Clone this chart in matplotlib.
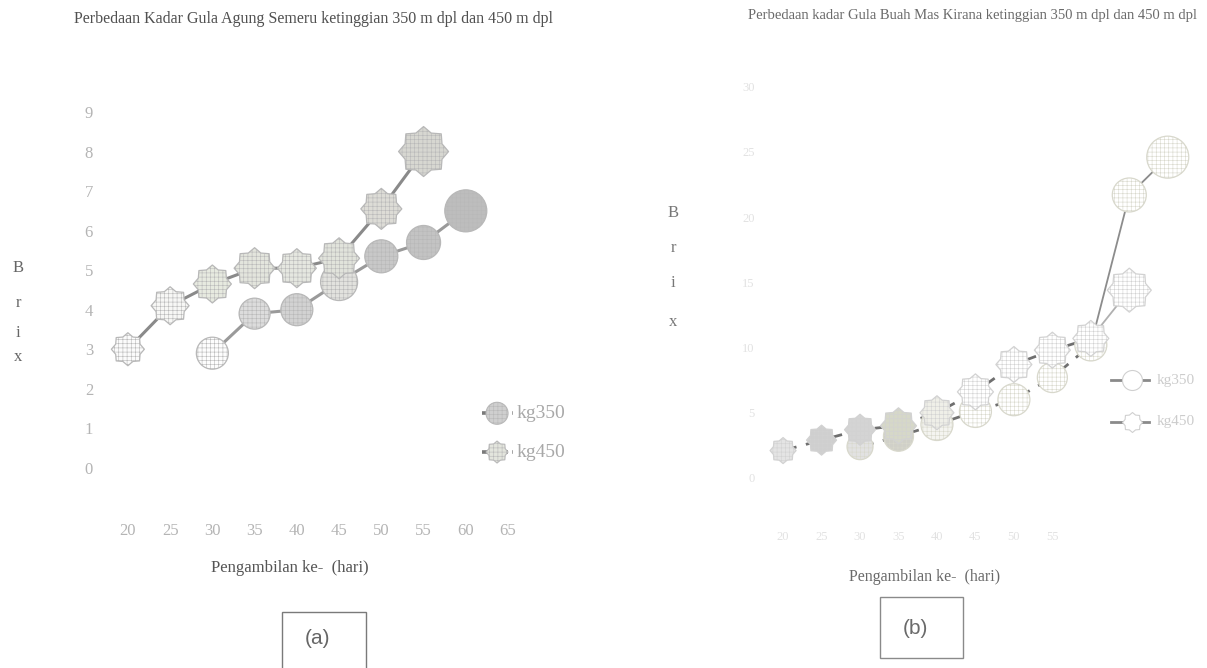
import numpy as np
import matplotlib
matplotlib.use("Agg")
import matplotlib.pyplot as plt
from matplotlib.path import Path
from matplotlib.patches import Rectangle

# ---- data: chart (a) Gula Agung Semeru ----
days_a_350 = [30, 35, 40, 45, 50, 55, 60]
brix_a_350 = [2.9, 3.9, 4.0, 4.7, 5.35, 5.7, 6.5]
days_a_450 = [20, 25, 30, 35, 40, 45, 50, 55]
brix_a_450 = [3.0, 4.1, 4.65, 5.05, 5.05, 5.3, 6.55, 8.0]
xticks_a = [20, 25, 30, 35, 40, 45, 50, 55, 60, 65]
yticks_a = [0, 1, 2, 3, 4, 5, 6, 7, 8, 9]

# ---- data: chart (b) Gula Buah Mas Kirana ----
days_b_350 = [30, 35, 40, 45, 50, 55, 60, 65, 70]
brix_b_350 = [2.4, 3.2, 4.1, 5.1, 6.0, 7.7, 10.2, 21.7, 24.6]
days_b_450 = [20, 25, 30, 35, 40, 45, 50, 55, 60, 65]
brix_b_450 = [2.1, 2.9, 3.7, 4.0, 5.0, 6.6, 8.7, 9.8, 10.7, 14.4]
xticks_b = [20, 25, 30, 35, 40, 45, 50, 55]
yticks_b = [0, 5, 10, 15, 20, 25, 30]

labels = ["kg350", "kg450"]
title_a = "Perbedaan Kadar Gula Agung Semeru ketinggian 350 m dpl dan 450 m dpl"
title_b = "Perbedaan kadar Gula Buah Mas Kirana ketinggian 350 m dpl dan 450 m dpl"
xlabel = "Pengambilan ke-  (hari)"
ylabel_letters = ["B", "r", "i", "x"]

W, H = 1207, 668
SERIF = ["Liberation Serif", "DejaVu Serif"]


def badge_path(n=8, inner=0.8):
    """Eight-pointed seal shape used for the 450 m series."""
    ang = np.linspace(0, 2 * np.pi, 2 * n, endpoint=False) + np.pi / 2
    r = np.where(np.arange(2 * n) % 2 == 0, 1.0, inner)
    verts = np.column_stack([r * np.cos(ang), r * np.sin(ang)])
    verts = np.vstack([verts, verts[0]])
    codes = [Path.MOVETO] + [Path.LINETO] * (2 * n - 1) + [Path.CLOSEPOLY]
    return Path(verts, codes)


STAR = badge_path()
px = 0.72  # points per pixel at 100 dpi

plt.rcParams["hatch.linewidth"] = 0.4

fig = plt.figure(figsize=(W / 100, H / 100), dpi=100)
fig.patch.set_facecolor("white")


def axes_px(x0, x1, y_top, y_bot):
    return fig.add_axes([x0 / W, (H - y_bot) / H, (x1 - x0) / W, (y_bot - y_top) / H])


def draw_points(ax, xs, ys, marker, sizes, faces, edge, hatch=None, z=3):
    for x, y, s, fc in zip(xs, ys, sizes, faces):
        ax.scatter([x], [y], marker=marker, s=(s * px) ** 2, facecolor=fc,
                   edgecolor=edge, linewidth=0.9, hatch=hatch, zorder=z)


def style_ticks(axis_obj):
    for t in axis_obj.get_xticklabels() + axis_obj.get_yticklabels():
        t.set_family(SERIF)


# ================= chart (a) =================
ax = axes_px(100, 530, 95, 490)
ax.set_xlim(16.7, 67.6)
ax.set_ylim(-0.56, 9.43)
for s in ax.spines.values():
    s.set_visible(False)
ax.set_xticks(xticks_a)
ax.set_yticks(yticks_a)
ax.tick_params(length=0, colors="#b4b4b4", labelsize=12)
ax.tick_params(axis="x", pad=24)
ax.tick_params(axis="y", pad=5)
style_ticks(ax)

ax.plot(days_a_450, brix_a_450, color="#8a8a8a", lw=2.2, zorder=2)
ax.plot(days_a_350, brix_a_350, color="#9a9a9a", lw=2.2, zorder=2)

draw_points(ax, days_a_350, brix_a_350, "o",
            [32, 31, 32, 37, 33, 34, 42],
            ["#fdfdfd", "#dcdcdc", "#d2d2d2", "#e2e2de", "#c8c8c8", "#c3c3c3", "#bdbdbd"],
            "#b8b8b8", hatch="++++", z=3)
draw_points(ax, days_a_450, brix_a_450, STAR,
            [33, 38, 38, 41, 39, 41, 41, 50],
            ["#fbfbfb", "#f7f7f5", "#e7eae0", "#e3e5dd", "#e5e7e0", "#e1e3db", "#dddcd6", "#d7d7d1"],
            "#b8b8b8", hatch="++++", z=4)

# legend of chart (a)
for yv, mk, fc, lab in [(1.38, "o", "#cfcfcf", labels[0]),
                        (0.4, STAR, "#e3e5dd", labels[1])]:
    ax.plot([61.9, 65.6], [yv, yv], color="#7a7a7a", lw=2.6, zorder=2,
            clip_on=False, dashes=(1.6, 1.2))
    ax.scatter([63.7], [yv], marker=mk, s=(22 * px) ** 2, facecolor=fc,
               edgecolor="#b8b8b8", linewidth=0.8, hatch="++++", zorder=3, clip_on=False)
    ax.text(66.0, yv, lab, va="center", ha="left", fontsize=14, color="#a8a8a8",
            family=SERIF, clip_on=False)

# ================= chart (b) =================
bx = axes_px(760, 1207, 75, 500)
bx.set_xlim(17.0, 75.1)
bx.set_ylim(-1.69, 30.9)
for s in bx.spines.values():
    s.set_visible(False)
bx.set_xticks(xticks_b)
bx.set_yticks(yticks_b)
bx.tick_params(length=0, colors="#e2e2e2", labelsize=9)
bx.tick_params(axis="x", pad=22)
bx.tick_params(axis="y", pad=4)
style_ticks(bx)

# early part dashed, late part thin solid
cut_450, cut_350 = 8, 6
bx.plot(days_b_450[:cut_450 + 1], brix_b_450[:cut_450 + 1], color="#6f6f6f",
        lw=2.0, dashes=(5, 3.5), zorder=2)
bx.plot(days_b_450[cut_450:], brix_b_450[cut_450:], color="#b0b0b0", lw=1.3, zorder=2)
bx.plot(days_b_350[:cut_350 + 1], brix_b_350[:cut_350 + 1], color="#707070",
        lw=2.0, dashes=(5, 3.5), zorder=2)
bx.plot(days_b_350[cut_350:], brix_b_350[cut_350:], color="#8c8c8c", lw=1.3, zorder=2)

draw_points(bx, days_b_450, brix_b_450, STAR,
            [26, 30, 31, 36, 34, 36, 36, 36, 36, 44],
            ["#e4e4e4", "#cfcfcf", "#d4d4d4", "#d6d8c8", "#efefe8", "#ffffff",
             "#ffffff", "#ffffff", "#ffffff", "#ffffff"],
            "#d2d2d2", hatch="++++", z=4)
draw_points(bx, days_b_350, brix_b_350, "o",
            [26, 30, 32, 32, 32, 30, 32, 34, 42],
            ["#e2e2e2", "#d0d0c8", "#f4f4f0", "#ffffff", "#ffffff", "#ffffff",
             "#ffffff", "#ffffff", "#ffffff"],
            "#d8d8cc", hatch="++++", z=3)

for yv, mk, lab in [(7.5, "o", labels[0]), (4.3, STAR, labels[1])]:
    bx.plot([62.6, 64.3], [yv, yv], color="#8a8a8a", lw=2.0, clip_on=False, zorder=2)
    bx.plot([66.2, 67.5], [yv, yv], color="#8a8a8a", lw=2.0, clip_on=False, zorder=2)
    bx.scatter([65.3], [yv], marker=mk, s=(20 * px) ** 2, facecolor="white",
               edgecolor="#d0d0d0", linewidth=0.8, zorder=3, clip_on=False)
    bx.text(68.6, yv, lab, va="center", ha="left", fontsize=11, color="#cccccc",
            family=SERIF, clip_on=False)

# ================= shared text =================
fig.text(313 / W, 1 - 19 / H, title_a, ha="center", va="center", fontsize=11.5,
         color="#505050", family=SERIF)
fig.text(972 / W, 1 - 16 / H, title_b, ha="center", va="center", fontsize=10.5,
         color="#6a6a6a", family=SERIF)
fig.text(290 / W, 1 - 568 / H, xlabel, ha="center", va="center", fontsize=12,
         color="#555555", family=SERIF)
fig.text(925 / W, 1 - 577 / H, xlabel, ha="center", va="center", fontsize=11.5,
         color="#6a6a6a", family=SERIF)

for ch, yy in zip(ylabel_letters, [268, 303, 333, 357]):
    fig.text(18 / W, 1 - yy / H, ch, ha="center", va="center", fontsize=12,
             color="#666666", family=SERIF)
for ch, yy in zip(ylabel_letters, [213, 248, 283, 322]):
    fig.text(673 / W, 1 - yy / H, ch, ha="center", va="center", fontsize=12,
             color="#777777", family=SERIF)

# panel tags
fig.patches.append(Rectangle((282 / W, -0.02), 84 / W, (668 - 612) / H + 0.02,
                             transform=fig.transFigure, fill=False,
                             edgecolor="#7a7a7a", lw=1.0))
fig.text(318 / W, 1 - 638 / H, "(a)", ha="center", va="center", fontsize=15,
         color="#666666", family=["Liberation Sans"])
fig.patches.append(Rectangle((880 / W, (668 - 658) / H), 83 / W, 61 / H,
                             transform=fig.transFigure, fill=False,
                             edgecolor="#8a8a8a", lw=1.0))
fig.text(915 / W, 1 - 628 / H, "(b)", ha="center", va="center", fontsize=15,
         color="#6a6a6a", family=["Liberation Sans"])

fig.savefig("out.png", dpi=100, facecolor="white")
